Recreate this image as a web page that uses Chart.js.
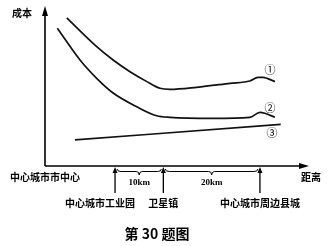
<!DOCTYPE html>
<html><head><meta charset="utf-8">
<script src="https://cdn.jsdelivr.net/npm/chart.js@4"></script>
<style>html,body{margin:0;padding:0;background:#fff}#c{display:block}</style>
</head><body>
<canvas id="c" width="336" height="246"></canvas>
<script>
// distance (arbitrary km units from city centre) and cost (arbitrary units)
const curve1X = [4.5, 10.7, 14.1, 17.6, 21.1, 23.8, 25.9, 31.4, 38.3, 42.4, 44.1, 45.1, 47.6];
const curve1Y = [93.7, 75.5, 67.1, 59.7, 53.4, 49.2, 48.5, 49.8, 52.3, 53.8, 56.1, 56.1, 53.4];
const curve2X = [2.55, 7.25, 10.7, 14.1, 19.0, 23.1, 25.9, 34.8, 42.4, 44.5, 45.5, 47.6];
const curve2Y = [87.2, 67.1, 55.5, 46.2, 37.5, 31.8, 30.8, 30.2, 30.8, 34.0, 33.4, 30.8];
const curve3X = [6.2, 48.8];
const curve3Y = [16.5, 26.4];
const seriesLabels = ['①', '②', '③'];
const placeNames = ['中心城市工业园', '卫星镇', '中心城市周边县城'];
const placeX = [14.5, 24.5, 44.5];
const gapLabels = ['10km', '20km'];
const axisTitleY = '成本';
const axisTitleX = '距离';
const originLabel = '中心城市市中心';
const chartTitle = '第 30 题图';

const toPts = (xs, ys) => xs.map((x, i) => ({x, y: ys[i]}));
const CJK = '"Noto Sans CJK SC", sans-serif';

const deco = {
  id: 'deco',
  afterDraw(chart) {
    const ctx = chart.ctx, a = chart.chartArea;
    const xs = chart.scales.x, ys = chart.scales.y;
    const x0 = xs.getPixelForValue(0), y0 = ys.getPixelForValue(0);
    ctx.save();
    ctx.strokeStyle = '#000'; ctx.fillStyle = '#000';
    ctx.lineWidth = 1.6;
    // axes
    ctx.beginPath();
    ctx.moveTo(x0, y0); ctx.lineTo(x0, a.top + 4);
    ctx.moveTo(x0, y0); ctx.lineTo(a.right + 2, y0);
    ctx.stroke();
    // arrow heads
    ctx.beginPath();
    ctx.moveTo(x0, a.top - 2); ctx.lineTo(x0 - 3, a.top + 8); ctx.lineTo(x0 + 3, a.top + 8); ctx.closePath(); ctx.fill();
    ctx.beginPath();
    ctx.moveTo(a.right + 8, y0); ctx.lineTo(a.right - 2, y0 - 3); ctx.lineTo(a.right - 2, y0 + 3); ctx.closePath(); ctx.fill();
    // place markers
    ctx.lineWidth = 1.3;
    const px = placeX.map(v => xs.getPixelForValue(v));
    px.forEach(p => {
      ctx.beginPath(); ctx.moveTo(p, y0 + 27); ctx.lineTo(p, y0 + 4); ctx.stroke();
      ctx.beginPath(); ctx.moveTo(p, y0 + 1); ctx.lineTo(p - 2.5, y0 + 7); ctx.lineTo(p + 2.5, y0 + 7); ctx.closePath(); ctx.fill();
    });
    // braces
    ctx.lineWidth = 1;
    const brace = (l, r) => {
      const m = (l + r) / 2, yb = y0 + 3;
      ctx.beginPath();
      ctx.moveTo(l + 2, yb);
      ctx.quadraticCurveTo(l + 2, yb + 2.5, l + 6, yb + 2.5);
      ctx.lineTo(m - 3, yb + 2.5);
      ctx.quadraticCurveTo(m, yb + 2.5, m, yb + 6);
      ctx.quadraticCurveTo(m, yb + 2.5, m + 3, yb + 2.5);
      ctx.lineTo(r - 6, yb + 2.5);
      ctx.quadraticCurveTo(r - 2, yb + 2.5, r - 2, yb);
      ctx.stroke();
    };
    brace(px[0], px[1]); brace(px[1], px[2]);
    // texts
    ctx.textAlign = 'center'; ctx.textBaseline = 'middle';
    ctx.font = 'bold 9px "Liberation Serif", serif';
    ctx.fillText(gapLabels[0], (px[0] + px[1]) / 2, y0 + 17);
    ctx.fillText(gapLabels[1], (px[1] + px[2]) / 2, y0 + 17);
    ctx.font = 'bold 10px ' + CJK;
    placeNames.forEach((t, i) => ctx.fillText(t, px[i] - (i === 0 ? 15 : 0), y0 + 37));
    ctx.fillText(originLabel, 45, y0 + 11);
    ctx.fillText(axisTitleX, 311, y0 + 11);
    ctx.fillText(axisTitleY, 22, 13);
    ctx.font = 'bold 14px ' + CJK;
    ctx.fillText(chartTitle, 157, 234);
    // series labels
    ctx.font = '11px ' + CJK;
    const ds = chart.data.datasets;
    const offs = [-12, -10, 9];
    ds.forEach((d, i) => {
      const last = d.data[d.data.length - 1];
      ctx.fillText(seriesLabels[i], 270 + (i === 2 ? 2 : 0), ys.getPixelForValue(last.y) + offs[i]);
    });
    ctx.restore();
  }
};

new Chart(document.getElementById('c'), {
  type: 'scatter',
  data: {
    datasets: [
      {label: seriesLabels[0], data: toPts(curve1X, curve1Y)},
      {label: seriesLabels[1], data: toPts(curve2X, curve2Y)},
      {label: seriesLabels[2], data: toPts(curve3X, curve3Y)}
    ].map(d => Object.assign(d, {showLine: true, borderColor: '#111', borderWidth: 1.7, pointRadius: 0, cubicInterpolationMode: 'monotone', fill: false}))
  },
  options: {
    responsive: false, animation: false,
    layout: {padding: {left: 45, top: 8, right: 35, bottom: 80}},
    plugins: {legend: {display: false}, tooltip: {enabled: false}},
    scales: {
      x: {type: 'linear', min: 0, max: 53, display: false},
      y: {type: 'linear', min: 0, max: 100, display: false}
    }
  },
  plugins: [deco]
});
</script>
</body></html>
